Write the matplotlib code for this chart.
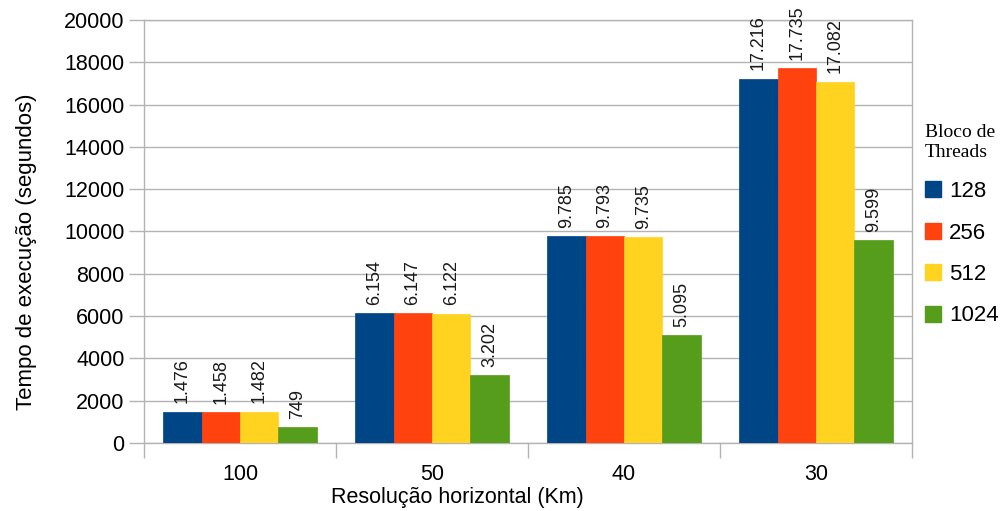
import numpy as np
import matplotlib.pyplot as plt
from matplotlib.patches import Patch

plt.rcParams['font.family'] = ['Liberation Sans', 'DejaVu Sans']

# Tempos de execucao por resolucao e tamanho de bloco
resolucoes = ['100', '50', '40', '30']
blocos = ['128', '256', '512', '1024']
t_128 = [1476, 6154, 9785, 17216]
t_256 = [1458, 6147, 9793, 17735]
t_512 = [1482, 6122, 9735, 17082]
t_1024 = [749, 3202, 5095, 9599]
series = [t_128, t_256, t_512, t_1024]
cores = ['#004586', '#ff420e', '#ffd320', '#579d1c']

def fmt_pt(v):
    # separador de milhar no estilo pt-BR
    return '{:,}'.format(v).replace(',', '.')

fig = plt.figure(figsize=(10.03, 5.11), dpi=100)
ax = fig.add_axes([0.1436, 0.133, 0.7657, 0.828])

x = np.arange(len(resolucoes))
w = 0.2
for i, (vals, c) in enumerate(zip(series, cores)):
    pos = x + (i - 1.5) * w
    ax.bar(pos, vals, width=w, color=c, edgecolor=c, linewidth=0.5, zorder=3)
    for xp, v in zip(pos, vals):
        ax.annotate(fmt_pt(v), (xp, v), xytext=(0, 6), textcoords='offset points',
                    rotation=90, ha='center', va='bottom', fontsize=13,
                    color='#1a1a1a', zorder=4)

ax.set_xlim(-0.5, 3.5)
ax.set_ylim(0, 20000)
ax.set_yticks(np.arange(0, 20001, 2000))
ax.tick_params(axis='y', labelsize=15.5, length=11, color='#b3b3b3', width=1, pad=3)

# rotulos nas posicoes centrais, marcas nas fronteiras das categorias
ax.set_xticks(np.arange(-0.5, 3.6, 1))
ax.set_xticklabels([])
ax.set_xticks(x, minor=True)
ax.set_xticklabels(resolucoes, minor=True)
ax.tick_params(axis='x', which='major', length=11, color='#b3b3b3', width=1)
ax.tick_params(axis='x', which='minor', length=0, labelsize=15.5, pad=15)

ax.grid(axis='y', color='#b3b3b3', linewidth=1, zorder=0)
for s in ax.spines.values():
    s.set_color('#b3b3b3')
    s.set_linewidth(1)

ax.set_ylabel('Tempo de execução (segundos)', fontsize=16)
ax.set_xlabel('Resolução horizontal (Km)', fontsize=15.5)
ax.yaxis.set_label_coords(-0.14, 0.452)
ax.xaxis.set_label_coords(0.408, -0.103)

handles = [Patch(facecolor=c, edgecolor=c) for c in cores]
leg = ax.legend(handles, blocos, loc='upper left', bbox_to_anchor=(1.005, 0.775),
                frameon=False, fontsize=16, title='Bloco de\nThreads',
                title_fontproperties={'family': 'Liberation Serif', 'size': 14},
                handlelength=0.75, handleheight=0.75, handletextpad=0.35,
                labelspacing=0.92, borderaxespad=0)
leg._legend_box.align = 'left'

fig.savefig('out.png', dpi=100)
